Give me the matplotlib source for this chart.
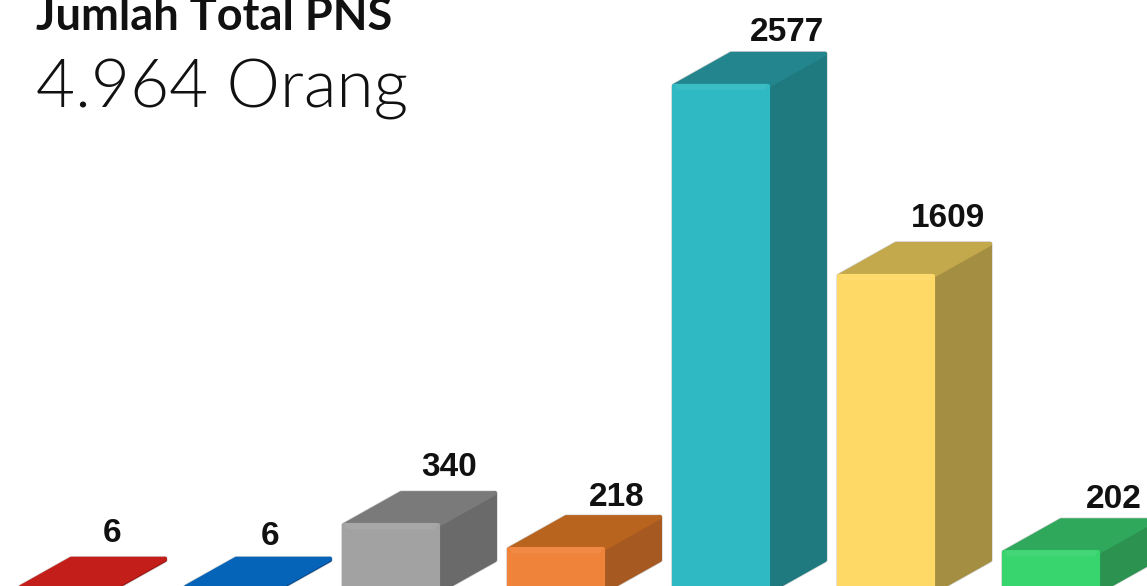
import matplotlib
matplotlib.use("Agg")
import matplotlib.pyplot as plt

# values
values = [6, 6, 340, 218, 2577, 1609, 202]
labels = ["6", "6", "340", "218", "2577", "1609", "202"]

front_colors = ["#D0241F", "#0A6CC4", "#A2A2A2", "#F0833A", "#2FB9C3", "#FFD966", "#38D46E"]
side_colors = ["#9A1512", "#05478A", "#6A6A6A", "#A65A22", "#1F7A80", "#A38E42", "#2B9250"]
top_colors = ["#C41E1A", "#0563B8", "#7A7A7A", "#B8641F", "#23868F", "#C4A84C", "#2FA85C"]

# label shift from the back top corner area, in pixels
label_dx = [51, 44, 58, 61, 66, 62, 63]
label_dy = [17, 14, 17, 11, 13, 17, 12]

W, H = 1147, 586
BAR_STEP = 165.0      # px between bars
BAR_W = 93.8          # px, the thick round edge adds the rest
FIRST_CENTER = 61.0   # px
PX_PER_UNIT = 0.1964
BASE_Y = 592.0        # px of value 0
DEPTH_X = 57.0
DEPTH_Y = 32.0

fig = plt.figure(figsize=(W / 100, H / 100), dpi=100, facecolor="white")
ax = fig.add_axes([0, 0, 1, 1])
ax.set_xlim(-FIRST_CENTER / BAR_STEP, (W - FIRST_CENTER) / BAR_STEP)
ax.set_ylim((BASE_Y - H) / PX_PER_UNIT, BASE_Y / PX_PER_UNIT)
ax.axis("off")

w = BAR_W / BAR_STEP
dx = DEPTH_X / BAR_STEP
dy = DEPTH_Y / PX_PER_UNIT
px_x = 1 / BAR_STEP
px_y = 1 / PX_PER_UNIT

for i, v in enumerate(values):
    l, r = i - w / 2, i + w / 2
    kw = dict(joinstyle="round", linewidth=3)
    # faint outline behind the box
    ax.fill([l, l, l + dx, r + dx, r + dx, r], [0, v, v + dy, v + dy, dy, 0],
            facecolor="none", edgecolor="#D4D4D4", linewidth=4, joinstyle="round", zorder=i * 3)
    ax.fill([r, r + dx, r + dx, r], [0, dy, v + dy, v], facecolor=side_colors[i],
            edgecolor=side_colors[i], zorder=i * 3 + 1, **kw)
    ax.fill([l, l + dx, r + dx, r], [v, v + dy, v + dy, v], facecolor=top_colors[i],
            edgecolor=top_colors[i], zorder=i * 3 + 1, **kw)
    ax.fill([l, r, r, l], [0, 0, v, v], facecolor=front_colors[i],
            edgecolor=front_colors[i], zorder=i * 3 + 2, **kw)
    # lighter bevel along the top of the front face
    ax.fill([l, r, r - 3 * px_x, l + 3 * px_x], [v + 2 * px_y, v + 2 * px_y, v - 4 * px_y, v - 4 * px_y],
            facecolor="white", edgecolor="none", alpha=0.06, zorder=i * 3 + 2)
    ax.annotate(labels[i], xy=(l + dx / 2 + w / 2, v + dy),
                xytext=(label_dx[i] - DEPTH_X / 2, label_dy[i]), textcoords="offset pixels",
                ha="center", va="baseline", fontsize=24, fontweight="bold",
                family="Liberation Sans", color="#111111", zorder=50)

fig.text(36 / W, 1 - 30 / H, "Jumlah Total PNS", fontsize=32.5, fontweight="bold",
         family="Lato", color="#111111", ha="left", va="baseline")
fig.text(36 / W, 1 - 108 / H, "4.964 Orang", fontsize=48.5, fontweight=300, family="Lato",
         color="#111111", ha="left", va="baseline")

fig.savefig("out.png", dpi=100)
